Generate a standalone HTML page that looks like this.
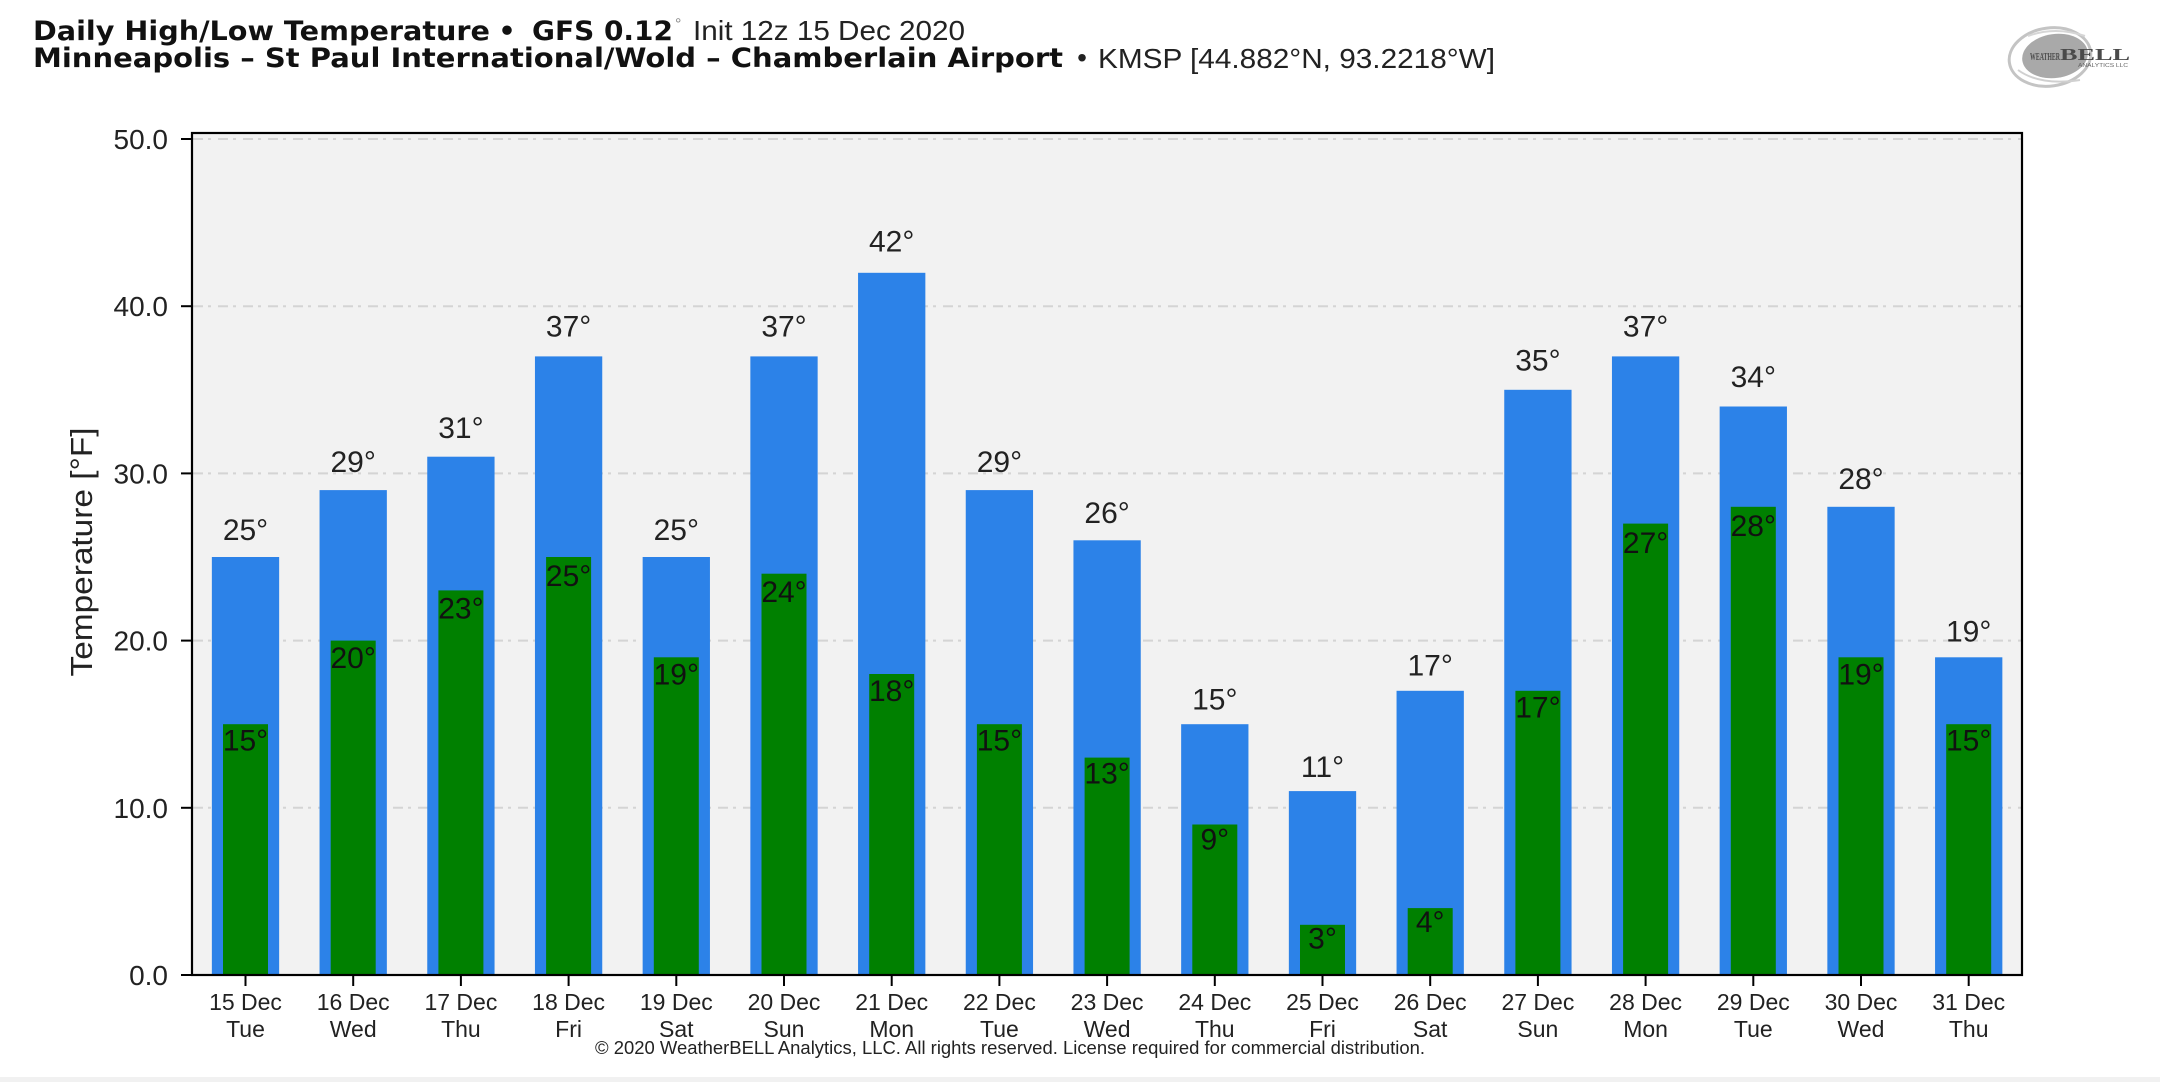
<!DOCTYPE html>
<html>
<head>
<meta charset="utf-8">
<style>
html,body{margin:0;padding:0;background:#fff;}
svg{display:block;}
</style>
</head>
<body>
<svg width="2160" height="1082" viewBox="0 0 2160 1082" xmlns="http://www.w3.org/2000/svg">
<rect x="0" y="0" width="2160" height="1082" fill="#ffffff"/>
<rect x="0" y="1077" width="2160" height="5" fill="#f1f1f1"/>

<!-- Title -->
<g font-family="DejaVu Sans, sans-serif" font-weight="bold" font-size="27" fill="#111">
  <text x="33" y="40" textLength="457" lengthAdjust="spacingAndGlyphs">Daily High/Low Temperature</text>
  <text x="507" y="40" text-anchor="middle">•</text>
  <text x="532" y="40" textLength="141" lengthAdjust="spacingAndGlyphs">GFS 0.12</text>
  <text x="33" y="67" textLength="1030" lengthAdjust="spacingAndGlyphs">Minneapolis – St Paul International/Wold – Chamberlain Airport</text>
</g>
<g font-family="Liberation Sans, sans-serif" font-size="28" fill="#222">
  <text x="675" y="29" font-size="16" fill="#888">°</text>
  <text x="693" y="40" textLength="272" lengthAdjust="spacingAndGlyphs">Init 12z 15 Dec 2020</text>
  <text x="1082" y="67" text-anchor="middle">•</text>
  <text x="1098" y="68" textLength="397" lengthAdjust="spacingAndGlyphs">KMSP [44.882°N, 93.2218°W]</text>
</g>

<!-- Logo -->
<g>
  <ellipse cx="2050" cy="57" rx="41" ry="29" fill="none" stroke="#c4c4c4" stroke-width="3" transform="rotate(-8 2050 57)"/>
  <ellipse cx="2055" cy="56" rx="33" ry="22" fill="#a9a9a9" transform="rotate(-8 2055 56)"/>
  <path d="M2018 70 Q2040 86 2080 80" fill="none" stroke="#d0d0d0" stroke-width="2"/>
  <path d="M2028 36 Q2055 26 2085 36" fill="none" stroke="#d6d6d6" stroke-width="2"/>
  <text x="2030" y="60" font-family="Liberation Serif, serif" font-weight="bold" font-size="11" fill="#4a4a4a" textLength="30" lengthAdjust="spacingAndGlyphs">WEATHER</text>
  <text x="2060" y="60" font-family="Liberation Serif, serif" font-weight="bold" font-size="17" fill="#4a4a4a" textLength="70" lengthAdjust="spacingAndGlyphs">BELL</text>
  <text x="2078" y="67" font-family="Liberation Sans, sans-serif" font-size="5" fill="#666" textLength="50" lengthAdjust="spacingAndGlyphs">ANALYTICS LLC</text>
</g>

<!-- Plot area background -->
<rect x="192" y="133" width="1830" height="842" fill="#f2f2f2"/>

<!-- Gridlines -->
<g stroke="#d4d4d4" stroke-width="2" stroke-dasharray="10 5 3 7">
  <line x1="193" y1="139" x2="2021" y2="139"/>
  <line x1="193" y1="306.2" x2="2021" y2="306.2"/>
  <line x1="193" y1="473.4" x2="2021" y2="473.4"/>
  <line x1="193" y1="640.6" x2="2021" y2="640.6"/>
  <line x1="193" y1="807.8" x2="2021" y2="807.8"/>
</g>

<!-- High bars (blue) -->
<g fill="#2c82e8">
  <rect x="211.85" y="557.0" width="67.3" height="418.0"/>
  <rect x="319.55" y="490.1" width="67.3" height="484.9"/>
  <rect x="427.25" y="456.7" width="67.3" height="518.3"/>
  <rect x="534.95" y="356.4" width="67.3" height="618.6"/>
  <rect x="642.65" y="557.0" width="67.3" height="418.0"/>
  <rect x="750.35" y="356.4" width="67.3" height="618.6"/>
  <rect x="858.05" y="272.8" width="67.3" height="702.2"/>
  <rect x="965.75" y="490.1" width="67.3" height="484.9"/>
  <rect x="1073.45" y="540.3" width="67.3" height="434.7"/>
  <rect x="1181.15" y="724.2" width="67.3" height="250.8"/>
  <rect x="1288.85" y="791.1" width="67.3" height="183.9"/>
  <rect x="1396.55" y="690.8" width="67.3" height="284.2"/>
  <rect x="1504.25" y="389.8" width="67.3" height="585.2"/>
  <rect x="1611.95" y="356.4" width="67.3" height="618.6"/>
  <rect x="1719.65" y="406.5" width="67.3" height="568.5"/>
  <rect x="1827.35" y="506.8" width="67.3" height="468.2"/>
  <rect x="1935.05" y="657.3" width="67.3" height="317.7"/>
</g>

<!-- Low bars (green) -->
<g fill="#008000">
  <rect x="223.0" y="724.2" width="45" height="250.8"/>
  <rect x="330.7" y="640.6" width="45" height="334.4"/>
  <rect x="438.4" y="590.4" width="45" height="384.6"/>
  <rect x="546.1" y="557.0" width="45" height="418.0"/>
  <rect x="653.8" y="657.3" width="45" height="317.7"/>
  <rect x="761.5" y="573.7" width="45" height="401.3"/>
  <rect x="869.2" y="674.0" width="45" height="301.0"/>
  <rect x="976.9" y="724.2" width="45" height="250.8"/>
  <rect x="1084.6" y="757.6" width="45" height="217.4"/>
  <rect x="1192.3" y="824.5" width="45" height="150.5"/>
  <rect x="1300.0" y="924.8" width="45" height="50.2"/>
  <rect x="1407.7" y="908.1" width="45" height="66.9"/>
  <rect x="1515.4" y="690.8" width="45" height="284.2"/>
  <rect x="1623.1" y="523.6" width="45" height="451.4"/>
  <rect x="1730.8" y="506.8" width="45" height="468.2"/>
  <rect x="1838.5" y="657.3" width="45" height="317.7"/>
  <rect x="1946.2" y="724.2" width="45" height="250.8"/>
</g>

<!-- High labels -->
<g font-family="Liberation Sans, sans-serif" font-size="30" fill="#222" text-anchor="middle">
  <text x="245.5" y="539.8">25°</text>
  <text x="353.2" y="471.9">29°</text>
  <text x="460.9" y="438.1">31°</text>
  <text x="568.6" y="336.4">37°</text>
  <text x="676.3" y="539.8">25°</text>
  <text x="784.0" y="336.4">37°</text>
  <text x="891.7" y="251.6">42°</text>
  <text x="999.4" y="471.9">29°</text>
  <text x="1107.1" y="522.8">26°</text>
  <text x="1214.8" y="709.3">15°</text>
  <text x="1322.5" y="777.1">11°</text>
  <text x="1430.2" y="675.4">17°</text>
  <text x="1537.9" y="370.3">35°</text>
  <text x="1645.6" y="336.4">37°</text>
  <text x="1753.3" y="387.2">34°</text>
  <text x="1861.0" y="488.9">28°</text>
  <text x="1968.7" y="641.4">19°</text>
</g>

<!-- Low labels -->
<g font-family="Liberation Sans, sans-serif" font-size="30" fill="#111" text-anchor="middle">
  <text x="245.5" y="750.7">15°</text>
  <text x="353.2" y="668.2">20°</text>
  <text x="460.9" y="618.7">23°</text>
  <text x="568.6" y="585.8">25°</text>
  <text x="676.3" y="684.7">19°</text>
  <text x="784.0" y="602.2">24°</text>
  <text x="891.7" y="701.1">18°</text>
  <text x="999.4" y="750.7">15°</text>
  <text x="1107.1" y="783.6">13°</text>
  <text x="1214.8" y="849.6">9°</text>
  <text x="1322.5" y="948.5">3°</text>
  <text x="1430.2" y="932.0">4°</text>
  <text x="1537.9" y="717.7">17°</text>
  <text x="1645.6" y="552.8">27°</text>
  <text x="1753.3" y="536.2">28°</text>
  <text x="1861.0" y="684.7">19°</text>
  <text x="1968.7" y="750.7">15°</text>
</g>

<!-- Axes frame -->
<rect x="192" y="133" width="1830" height="842" fill="none" stroke="#000" stroke-width="2.2"/>

<!-- Y ticks -->
<g stroke="#000" stroke-width="2">
  <line x1="181" y1="139" x2="192" y2="139"/>
  <line x1="181" y1="306.2" x2="192" y2="306.2"/>
  <line x1="181" y1="473.4" x2="192" y2="473.4"/>
  <line x1="181" y1="640.6" x2="192" y2="640.6"/>
  <line x1="181" y1="807.8" x2="192" y2="807.8"/>
  <line x1="181" y1="975" x2="192" y2="975"/>
</g>
<g font-family="Liberation Sans, sans-serif" font-size="28" fill="#222" text-anchor="end">
  <text x="168" y="149">50.0</text>
  <text x="168" y="316.2">40.0</text>
  <text x="168" y="483.4">30.0</text>
  <text x="168" y="650.6">20.0</text>
  <text x="168" y="817.8">10.0</text>
  <text x="168" y="985">0.0</text>
</g>
<text transform="translate(92,552) rotate(-90)" font-family="Liberation Sans, sans-serif" font-size="31" fill="#222" text-anchor="middle" textLength="249" lengthAdjust="spacingAndGlyphs">Temperature [°F]</text>

<!-- X ticks -->
<g stroke="#000" stroke-width="2">
  <line x1="245.5" y1="975" x2="245.5" y2="986"/>
  <line x1="353.2" y1="975" x2="353.2" y2="986"/>
  <line x1="460.9" y1="975" x2="460.9" y2="986"/>
  <line x1="568.6" y1="975" x2="568.6" y2="986"/>
  <line x1="676.3" y1="975" x2="676.3" y2="986"/>
  <line x1="784.0" y1="975" x2="784.0" y2="986"/>
  <line x1="891.7" y1="975" x2="891.7" y2="986"/>
  <line x1="999.4" y1="975" x2="999.4" y2="986"/>
  <line x1="1107.1" y1="975" x2="1107.1" y2="986"/>
  <line x1="1214.8" y1="975" x2="1214.8" y2="986"/>
  <line x1="1322.5" y1="975" x2="1322.5" y2="986"/>
  <line x1="1430.2" y1="975" x2="1430.2" y2="986"/>
  <line x1="1537.9" y1="975" x2="1537.9" y2="986"/>
  <line x1="1645.6" y1="975" x2="1645.6" y2="986"/>
  <line x1="1753.3" y1="975" x2="1753.3" y2="986"/>
  <line x1="1861.0" y1="975" x2="1861.0" y2="986"/>
  <line x1="1968.7" y1="975" x2="1968.7" y2="986"/>
</g>
<g font-family="Liberation Sans, sans-serif" font-size="23" fill="#222" text-anchor="middle">
  <text x="245.5" y="1010">15 Dec</text><text x="245.5" y="1037">Tue</text>
  <text x="353.2" y="1010">16 Dec</text><text x="353.2" y="1037">Wed</text>
  <text x="460.9" y="1010">17 Dec</text><text x="460.9" y="1037">Thu</text>
  <text x="568.6" y="1010">18 Dec</text><text x="568.6" y="1037">Fri</text>
  <text x="676.3" y="1010">19 Dec</text><text x="676.3" y="1037">Sat</text>
  <text x="784.0" y="1010">20 Dec</text><text x="784.0" y="1037">Sun</text>
  <text x="891.7" y="1010">21 Dec</text><text x="891.7" y="1037">Mon</text>
  <text x="999.4" y="1010">22 Dec</text><text x="999.4" y="1037">Tue</text>
  <text x="1107.1" y="1010">23 Dec</text><text x="1107.1" y="1037">Wed</text>
  <text x="1214.8" y="1010">24 Dec</text><text x="1214.8" y="1037">Thu</text>
  <text x="1322.5" y="1010">25 Dec</text><text x="1322.5" y="1037">Fri</text>
  <text x="1430.2" y="1010">26 Dec</text><text x="1430.2" y="1037">Sat</text>
  <text x="1537.9" y="1010">27 Dec</text><text x="1537.9" y="1037">Sun</text>
  <text x="1645.6" y="1010">28 Dec</text><text x="1645.6" y="1037">Mon</text>
  <text x="1753.3" y="1010">29 Dec</text><text x="1753.3" y="1037">Tue</text>
  <text x="1861.0" y="1010">30 Dec</text><text x="1861.0" y="1037">Wed</text>
  <text x="1968.7" y="1010">31 Dec</text><text x="1968.7" y="1037">Thu</text>
</g>

<!-- Copyright -->
<text x="595" y="1054" font-family="Liberation Sans, sans-serif" font-size="18" fill="#222" textLength="830" lengthAdjust="spacingAndGlyphs">© 2020 WeatherBELL Analytics, LLC. All rights reserved. License required for commercial distribution.</text>
</svg>
</body>
</html>
